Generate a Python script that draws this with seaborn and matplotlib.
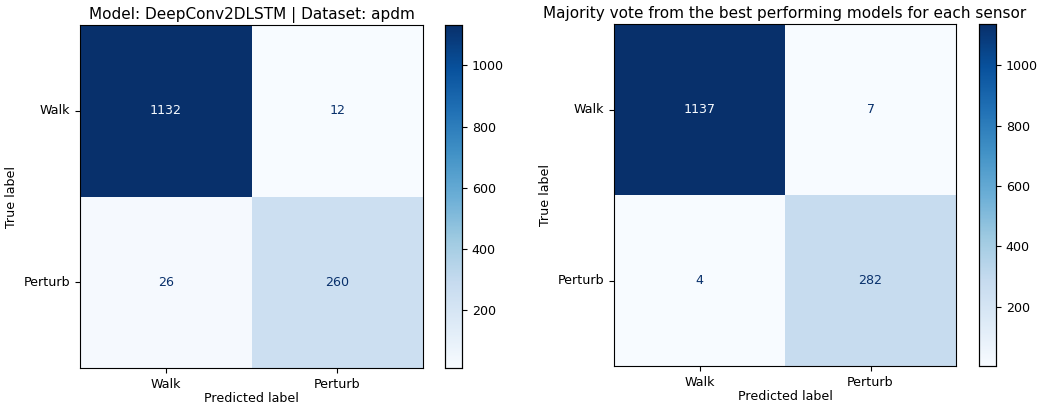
import numpy as np
import matplotlib
matplotlib.use("Agg")
import matplotlib.pyplot as plt
import seaborn as sns

# 类别与两个混淆矩阵的数据
labels = ["Walk", "Perturb"]
cm_deepconv = [[1132, 12],
               [26, 260]]
cm_vote = [[1137, 7],
           [4, 282]]
titles = ["Model: DeepConv2DLSTM | Dataset: apdm",
          "Majority vote from the best performing models for each sensor"]

plt.rcParams['font.family'] = ['DejaVu Sans']
fs = 9.1

fig = plt.figure(figsize=(10.4, 4.07), dpi=100)
W, H = 1040, 407


def px_axes(x0, y0, x1, y1):
    return fig.add_axes([x0 / W, 1 - y1 / H, (x1 - x0) / W, (y1 - y0) / H])


layout = [((80, 25, 423, 368), (445, 25, 462, 368)),
          ((614, 24, 956, 366), (979, 24, 996, 366))]

cmap = plt.get_cmap("Blues")
for cm, title, (abox, cbox) in zip([cm_deepconv, cm_vote], titles, layout):
    ax = px_axes(*abox)
    cax = px_axes(*cbox)
    arr = np.array(cm)
    sns.heatmap(arr, ax=ax, cbar_ax=cax, cmap="Blues", annot=True, fmt="d",
                annot_kws={"fontsize": fs},
                xticklabels=labels, yticklabels=labels)
    # sklearn 风格的文字颜色
    thresh = (arr.max() + arr.min()) / 2.0
    for t in ax.texts:
        v = int(t.get_text())
        t.set_color(cmap(0.0) if v > thresh else cmap(1.0))
    ax.set_yticklabels(labels, rotation=0, fontsize=fs)
    ax.set_xticklabels(labels, rotation=0, fontsize=fs)
    ax.tick_params(length=3.5, width=0.8)
    for s in ax.spines.values():
        s.set_visible(True)
        s.set_linewidth(0.8)
    ax.set_title(title, fontsize=11, pad=4)
    ax.set_xlabel("Predicted label", fontsize=fs, labelpad=1)
    ax.set_ylabel("True label", fontsize=fs)
    cax.set_yticks([200, 400, 600, 800, 1000])
    cax.tick_params(labelsize=fs, length=3.5, width=0.8)
    for s in cax.spines.values():
        s.set_visible(True)
        s.set_linewidth(0.8)

fig.savefig("out.png", dpi=100)
